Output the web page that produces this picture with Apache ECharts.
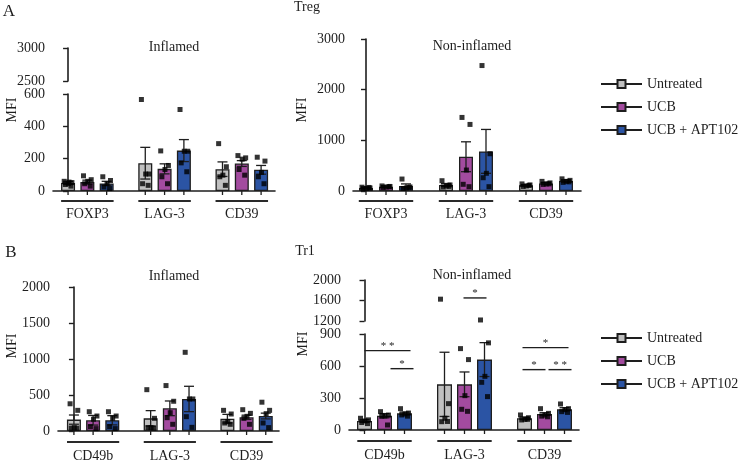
<!DOCTYPE html>
<html><head><meta charset="utf-8">
<script src="https://cdn.jsdelivr.net/npm/echarts@6/dist/echarts.min.js"></script>
<style>html,body{margin:0;padding:0;background:#fff}#c{width:740px;height:464px}</style>
</head><body><div id="c"></div>
<script>
// ---------------- DATA ----------------
const treatments = ['Untreated', 'UCB', 'UCB + APT102'];
const tregMarkers = ['FOXP3', 'LAG-3', 'CD39'];
const tr1Markers = ['CD49b', 'LAG-3', 'CD39'];

// rows = treatments, columns = markers
const tregInflamedMean = [[50, 172, 135], [55, 137, 170], [47, 250, 131]];
const tregInflamedSem  = [[10, 98, 45], [12, 31, 18], [13, 68, 27]];
const tregInflamedPoints = [
  [[60, 52, 45, 40, 30, 55], [566, 105, 105, 45, 35], [293, 150, 98, 88, 35]],
  [[94, 70, 60, 45, 30], [248, 158, 133, 88, 45], [219, 205, 197, 133, 98]],
  [[88, 65, 45, 25, 15], [504, 246, 246, 174, 119], [209, 185, 115, 88, 45]]
];
const tregInflamedTicksLow = [0, 200, 400, 600];
const tregInflamedTicksHigh = [2500, 3000];

const tregNonInflamedMean = [[60, 118, 112], [85, 676, 150], [100, 782, 197]];
const tregNonInflamedSem  = [[15, 30, 15], [15, 295, 20], [40, 433, 25]];
const tregNonInflamedPoints = [
  [[75, 60, 50, 45, 70], [203, 120, 100, 80, 90], [140, 120, 100, 90, 110]],
  [[100, 90, 80, 70, 85], [1452, 1314, 414, 132, 85], [190, 160, 140, 130, 140]],
  [[236, 80, 60, 50, 70], [2476, 735, 349, 262, 85], [240, 210, 190, 170, 180]]
];
const tregNonInflamedTicks = [0, 1000, 2000, 3000];

const tr1InflamedMean = [[158, 176, 171], [149, 315, 190], [149, 445, 208]];
const tr1InflamedSem  = [[64, 107, 60], [67, 102, 30], [64, 176, 40]];
const tr1InflamedPoints = [
  [[378, 287, 47, 40, 40], [574, 176, 47, 47, 40], [287, 236, 130, 111, 93]],
  [[268, 208, 163, 61, 33], [631, 413, 254, 185, 93], [296, 245, 204, 176, 93]],
  [[268, 208, 176, 61, 33], [1093, 445, 445, 199, 51], [400, 287, 241, 111, 47]]
];
const tr1InflamedTicks = [0, 500, 1000, 1500, 2000];

const tr1NonInflamedMean = [[84, 428, 110], [134, 428, 150], [156, 660, 194]];
const tr1NonInflamedSem  = [[12, 301, 12], [20, 116, 12], [12, 159, 15]];
const tr1NonInflamedPoints = [
  [[110, 95, 85, 70, 60], [1626, 247, 110, 78, 80], [141, 115, 100, 94, 100]],
  [[172, 140, 131, 130, 47], [763, 660, 322, 194, 175], [200, 156, 140, 130, 124]],
  [[200, 159, 150, 141, 130], [1220, 817, 503, 447, 313], [244, 200, 190, 172, 165]]
];
const tr1NonInflamedTicksLow = [0, 300, 600, 900];
const tr1NonInflamedTicksHigh = [1200, 1600, 2000];

// significance brackets (Tr1 non-inflamed): [from, to, height]
const tr1SigBrackets = [[0, 2.3, 744], [1.3, 2.45, 575], [4.95, 6.1, 1650], [7.9, 10.2, 772], [7.9, 9.05, 566], [9.2, 10.35, 566]];
const tr1SigLabels = ['* *', '*', '*', '*', '*', '* *'];

// horizontal jitter of the individual points within a bar (read approx.)
const jitter = [-0.2, 0.2, 0.02, -0.14, 0.15, 0.05];

// ---------------- STYLE / LAYOUT ----------------
const FONT = '"Liberation Serif", "DejaVu Serif", serif';
const INK = '#1e1e1e';
const barColors = ['#c0c0c0', '#a34b9f', '#2b54a4'];

const panels = [
  { markers: tregMarkers, mean: tregInflamedMean, sem: tregInflamedSem, pts: tregInflamedPoints,
    low: tregInflamedTicksLow, high: tregInflamedTicksHigh,
    gLow: { left: 53, top: 94, width: 222, height: 97 }, gHigh: { left: 53, top: 48, width: 222, height: 33 },
    xmin: -0.78, xmax: 10.72, barW: 14, lineOff: 10, labOff: 23 },
  { markers: tregMarkers, mean: tregNonInflamedMean, sem: tregNonInflamedSem, pts: tregNonInflamedPoints,
    low: tregNonInflamedTicks, high: null,
    gLow: { left: 353, top: 39, width: 228, height: 152 },
    xmin: -0.65, xmax: 10.75, barW: 14, lineOff: 10, labOff: 23 },
  { markers: tr1Markers, mean: tr1InflamedMean, sem: tr1InflamedSem, pts: tr1InflamedPoints,
    low: tr1InflamedTicks, high: null,
    gLow: { left: 58, top: 287, width: 221, height: 144 },
    xmin: -0.83, xmax: 10.69, barW: 14, lineOff: 11, labOff: 25 },
  { markers: tr1Markers, mean: tr1NonInflamedMean, sem: tr1NonInflamedSem, pts: tr1NonInflamedPoints,
    low: tr1NonInflamedTicksLow, high: tr1NonInflamedTicksHigh,
    gLow: { left: 349, top: 334, width: 230, height: 96 }, gHigh: { left: 349, top: 280, width: 230, height: 41 },
    xmin: -0.775, xmax: 10.725, barW: 15, lineOff: 11, labOff: 25, sig: true }
];

const grid = [], xAxis = [], yAxis = [], series = [];

function yAx(gi, ticks) {
  return {
    type: 'value', gridIndex: gi, min: ticks[0], max: ticks[ticks.length - 1], interval: ticks[1] - ticks[0],
    axisLine: { show: true, lineStyle: { color: INK, width: 1.6 } },
    axisTick: { show: true, length: 5, lineStyle: { color: INK, width: 1.4 } },
    axisLabel: { color: INK, fontFamily: FONT, fontSize: 14, margin: 8, formatter: v => String(v) },
    splitLine: { show: false }
  };
}
function xAx(gi, p, show) {
  return {
    type: 'value', gridIndex: gi, min: p.xmin, max: p.xmax,
    axisLine: { show: show, onZero: false, lineStyle: { color: INK, width: 1.6 } },
    axisTick: { show: false }, axisLabel: { show: false }, splitLine: { show: false }
  };
}

// legend proxies (line + square)
treatments.forEach((t, k) => {
  series.push({ type: 'line', name: t, xAxisIndex: 0, yAxisIndex: 0, data: [], symbol: 'rect',
    itemStyle: { color: barColors[k], borderColor: INK, borderWidth: 1 },
    lineStyle: { color: INK, width: 1.5 } });
});

panels.forEach(p => {
  const gl = grid.length;
  grid.push(Object.assign({}, p.gLow));
  xAxis.push(xAx(gl, p, true));
  yAxis.push(yAx(gl, p.low));
  let gh = null;
  if (p.high) {
    gh = grid.length;
    grid.push(Object.assign({}, p.gHigh));
    xAxis.push(xAx(gh, p, false));
    yAxis.push(yAx(gh, p.high));
  }
  const lowMax = p.low[p.low.length - 1];

  // bars
  treatments.forEach((t, k) => {
    series.push({
      type: 'bar', name: t, xAxisIndex: gl, yAxisIndex: gl, barWidth: p.barW, barGap: '-100%', z: 2,
      itemStyle: { color: barColors[k], borderColor: INK, borderWidth: 1.3 },
      data: p.markers.map((m, i) => [i * 4 + k, p.mean[k][i]])
    });
  });

  // error bars (mean ± SEM)
  const errData = [];
  treatments.forEach((t, k) => p.markers.forEach((m, i) => errData.push([i * 4 + k, p.mean[k][i], p.sem[k][i]])));
  series.push({
    type: 'custom', xAxisIndex: gl, yAxisIndex: gl, z: 3, silent: true, clip: false, data: errData,
    renderItem(params, api) {
      const x = api.value(0), m = api.value(1), s = api.value(2);
      const top = api.coord([x, m + s]), bot = api.coord([x, Math.max(0, m - s)]);
      const st = { stroke: INK, lineWidth: 1.3 };
      const cap = 5;
      return { type: 'group', children: [
        { type: 'line', shape: { x1: top[0], y1: top[1], x2: top[0], y2: bot[1] }, style: st },
        { type: 'line', shape: { x1: top[0] - cap, y1: top[1], x2: top[0] + cap, y2: top[1] }, style: st },
        { type: 'line', shape: { x1: bot[0] - cap, y1: bot[1], x2: bot[0] + cap, y2: bot[1] }, style: st }
      ] };
    }
  });

  // individual points
  const lowPts = [], highPts = [];
  treatments.forEach((t, k) => p.markers.forEach((m, i) => {
    p.pts[k][i].forEach((v, j) => {
      const pt = [i * 4 + k + jitter[j % jitter.length], v];
      (v > lowMax ? highPts : lowPts).push(pt);
    });
  }));
  series.push({ type: 'scatter', xAxisIndex: gl, yAxisIndex: gl, symbol: 'rect', symbolSize: 5, z: 4, silent: true,
    itemStyle: { color: '#000' }, data: lowPts });
  if (gh !== null) {
    series.push({ type: 'scatter', xAxisIndex: gh, yAxisIndex: gh, symbol: 'rect', symbolSize: 5, z: 4, silent: true,
      itemStyle: { color: '#000' }, data: highPts });
  }

  // x ticks under bars, group underline and group label
  series.push({
    type: 'custom', xAxisIndex: gl, yAxisIndex: gl, z: 3, silent: true, clip: false,
    data: p.markers.map((m, i) => [i * 4, 0]),
    renderItem(params, api) {
      const x0 = api.value(0);
      const a = api.coord([x0 - 0.36, 0]), b = api.coord([x0 + 2.36, 0]);
      const ch = [];
      for (let t = 0; t < 3; t++) {
        const c = api.coord([x0 + t, 0]);
        ch.push({ type: 'line', shape: { x1: c[0], y1: c[1], x2: c[0], y2: c[1] + 4 }, style: { stroke: INK, lineWidth: 1.3 } });
      }
      ch.push({ type: 'line', shape: { x1: a[0], y1: a[1] + p.lineOff, x2: b[0], y2: a[1] + p.lineOff }, style: { stroke: '#2a2a2a', lineWidth: 2 } });
      ch.push({ type: 'text', style: { text: p.markers[params.dataIndex], x: (a[0] + b[0]) / 2, y: a[1] + p.labOff,
        align: 'center', verticalAlign: 'middle', fontSize: 14, fontFamily: FONT, fill: INK } });
      return { type: 'group', children: ch };
    }
  });

  // significance brackets
  if (p.sig) {
    const mk = (gi, filt) => ({
      type: 'custom', xAxisIndex: gi, yAxisIndex: gi, z: 5, silent: true, clip: false,
      data: tr1SigBrackets.map((b, idx) => filt(b) ? b.concat([idx]) : null).filter(Boolean),
      renderItem(params, api) {
        const a = api.coord([api.value(0), api.value(2)]), b = api.coord([api.value(1), api.value(2)]);
        const lab = tr1SigLabels[api.value(3)];
        return { type: 'group', children: [
          { type: 'line', shape: { x1: a[0], y1: a[1], x2: b[0], y2: a[1] }, style: { stroke: INK, lineWidth: 1.4 } },
          { type: 'text', style: { text: lab, x: (a[0] + b[0]) / 2, y: a[1] - 5, align: 'center', verticalAlign: 'middle',
            fontSize: 11, fontFamily: FONT, fill: INK } }
        ] };
      }
    });
    series.push(mk(gl, b => b[2] <= lowMax));
    series.push(mk(gh, b => b[2] > lowMax));
  }
});

const legendBase = {
  data: treatments, orient: 'vertical', left: 600, padding: 0, itemWidth: 41, itemHeight: 10, itemGap: 9,
  selectedMode: false, textStyle: { fontFamily: FONT, fontSize: 14, color: INK }
};

function txt(t, x, y, size, rot) {
  return { type: 'text', x: x, y: y, rotation: rot || 0, silent: true,
    style: { text: t, align: 'center', verticalAlign: 'middle', fontSize: size, fontFamily: FONT, fill: INK } };
}

const option = {
  animation: false,
  backgroundColor: '#fff',
  grid, xAxis, yAxis, series,
  legend: [Object.assign({ top: 77 }, legendBase), Object.assign({ top: 331 }, legendBase)],
  graphic: [
    txt('A', 9, 12, 17), txt('B', 11, 253, 17),
    txt('Treg', 307, 7, 14), txt('Tr1', 305, 251, 14),
    txt('Inflamed', 174, 47, 14), txt('Non-inflamed', 472, 46, 14),
    txt('Inflamed', 174, 276, 14), txt('Non-inflamed', 472, 275, 14),
    txt('MFI', 12, 110, 14, Math.PI / 2), txt('MFI', 302, 110, 14, Math.PI / 2),
    txt('MFI', 12, 346, 14, Math.PI / 2), txt('MFI', 303, 344, 14, Math.PI / 2)
  ]
};

const chart = echarts.init(document.getElementById('c'), null, { renderer: 'canvas' });
chart.setOption(option);
</script></body></html>
